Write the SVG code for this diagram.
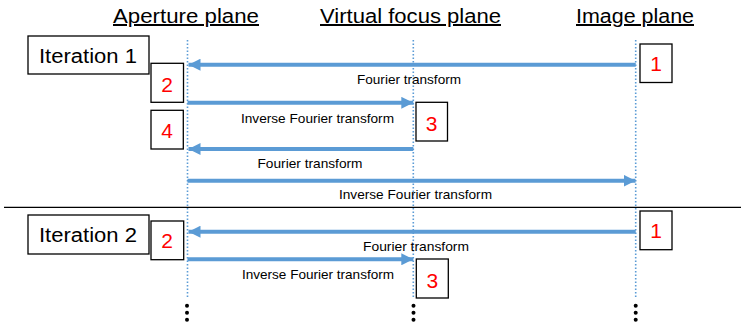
<svg xmlns="http://www.w3.org/2000/svg" width="741" height="324" viewBox="0 0 741 324">
<style>
.hdr{font-family:"Liberation Sans",Arial,sans-serif;font-size:20px;fill:#000;text-anchor:middle;text-decoration:underline}
.it{font-family:"Liberation Sans",Arial,sans-serif;font-size:20px;fill:#000;text-anchor:middle}
.box{fill:#fff;stroke:#000;stroke-width:1.3}
.num{font-family:"Liberation Sans",Arial,sans-serif;font-size:21px;fill:#FF0000;text-anchor:middle}
.lbl{font-family:"Liberation Sans",Arial,sans-serif;font-size:13px;fill:#000;text-anchor:middle}
.plane{stroke:#5B9BD5;stroke-width:1.6;stroke-dasharray:1.6 1.9;fill:none}
.arr{stroke:#5B9BD5;stroke-width:4;fill:none}
.sep{stroke:#000;stroke-width:1.2}
.dot{fill:#000}
</style>
<defs>
<marker id="ah" markerUnits="userSpaceOnUse" markerWidth="13" markerHeight="12" refX="12" refY="6" orient="auto">
<path d="M0,0 L12,6 L0,12 z" fill="#5B9BD5"/>
</marker>
</defs>
<g id="planes">
<line class="plane" x1="187.5" y1="40" x2="187.5" y2="297"/>
<line class="plane" x1="413.3" y1="40" x2="413.3" y2="297"/>
<line class="plane" x1="635.7" y1="40" x2="635.7" y2="297"/>
</g>
<g id="ellipsis">
<circle class="dot" cx="187" cy="305.8" r="2"/><circle class="dot" cx="187" cy="312.8" r="2"/><circle class="dot" cx="187" cy="319.8" r="2"/>
<circle class="dot" cx="413.5" cy="305.8" r="2"/><circle class="dot" cx="413.5" cy="312.8" r="2"/><circle class="dot" cx="413.5" cy="319.8" r="2"/>
<circle class="dot" cx="635.7" cy="305.8" r="2"/><circle class="dot" cx="635.7" cy="312.8" r="2"/><circle class="dot" cx="635.7" cy="319.8" r="2"/>
</g>
<g id="hdr-aperture"><text class="hdr" x="186" y="23" textLength="146" lengthAdjust="spacingAndGlyphs">Aperture plane</text></g>
<g id="hdr-virtual"><text class="hdr" x="410.5" y="23" textLength="181" lengthAdjust="spacingAndGlyphs">Virtual focus plane</text></g>
<g id="hdr-image"><text class="hdr" x="635" y="23" textLength="118" lengthAdjust="spacingAndGlyphs">Image plane</text></g>
<line id="separator" class="sep" x1="4" y1="207.3" x2="741" y2="207.3"/>
<g id="iter1"><rect class="box" x="28" y="36" width="121" height="38"/><text class="it" x="88" y="63.3" textLength="98" lengthAdjust="spacingAndGlyphs">Iteration 1</text></g>
<g id="iter2"><rect class="box" x="28" y="215" width="121" height="39"/><text class="it" x="88" y="241.7" textLength="98" lengthAdjust="spacingAndGlyphs">Iteration 2</text></g>
<g id="step1a"><rect class="box" x="640" y="44" width="32" height="38.5"/><text class="num" x="656" y="71">1</text></g>
<g id="step2a"><rect class="box" x="151" y="63.3" width="32.5" height="39"/><text class="num" x="167" y="91.7">2</text></g>
<g id="step3a"><rect class="box" x="416" y="102.3" width="31.5" height="38.7"/><text class="num" x="431.7" y="130.7">3</text></g>
<g id="step4a"><rect class="box" x="151" y="110.3" width="32.3" height="38.7"/><text class="num" x="167" y="138.3">4</text></g>
<g id="step1b"><rect class="box" x="640" y="211" width="32" height="38.7"/><text class="num" x="656" y="238.3">1</text></g>
<g id="step2b"><rect class="box" x="151" y="221" width="32.7" height="38.7"/><text class="num" x="167" y="248.3">2</text></g>
<g id="step3b"><rect class="box" x="416.3" y="259" width="32" height="39"/><text class="num" x="432.3" y="288.3">3</text></g>
<g id="connectors">
<line class="arr" x1="635.7" y1="64.7" x2="188.5" y2="64.7" marker-end="url(#ah)"/>
<line class="arr" x1="187.5" y1="102.8" x2="413.3" y2="102.8" marker-end="url(#ah)"/>
<line class="arr" x1="413.3" y1="149" x2="188.5" y2="149" marker-end="url(#ah)"/>
<line class="arr" x1="187.5" y1="180.7" x2="635.5" y2="180.7" marker-end="url(#ah)"/>
<line class="arr" x1="635.7" y1="231.7" x2="188.5" y2="231.7" marker-end="url(#ah)"/>
<line class="arr" x1="187.5" y1="259.3" x2="413.3" y2="259.3" marker-end="url(#ah)"/>
<text class="lbl" x="409" y="83.5" textLength="104" lengthAdjust="spacingAndGlyphs">Fourier transform</text>
<text class="lbl" x="317.5" y="122.5" textLength="153" lengthAdjust="spacingAndGlyphs">Inverse Fourier transform</text>
<text class="lbl" x="310" y="167.5" textLength="105" lengthAdjust="spacingAndGlyphs">Fourier transform</text>
<text class="lbl" x="415.5" y="199" textLength="153" lengthAdjust="spacingAndGlyphs">Inverse Fourier transform</text>
<text class="lbl" x="416" y="251" textLength="106" lengthAdjust="spacingAndGlyphs">Fourier transform</text>
<text class="lbl" x="318" y="279" textLength="152" lengthAdjust="spacingAndGlyphs">Inverse Fourier transform</text>
</g>
</svg>
